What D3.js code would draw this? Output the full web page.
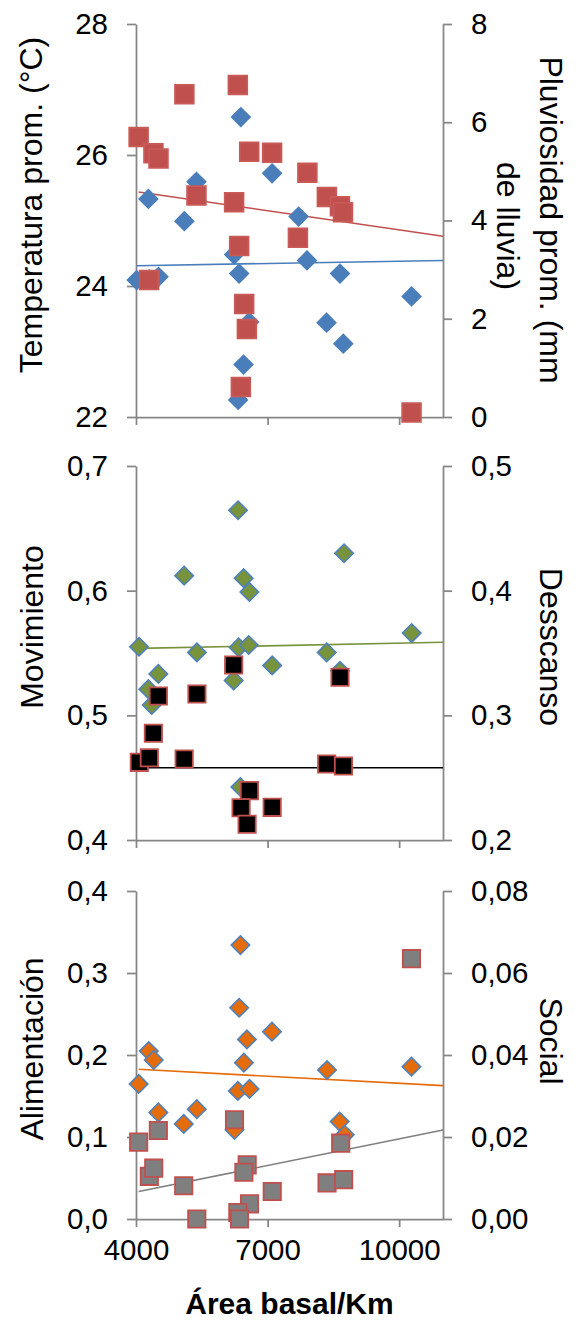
<!DOCTYPE html>
<html>
<head>
<meta charset="utf-8">
<script src="https://cdn.jsdelivr.net/npm/d3@7"></script>
<style>
  body { margin: 0; background: #fff; }
  svg { display: block; }
</style>
</head>
<body>
<div id="chart"></div>
<script>
// ---- data ----
// panel 1 : temperature (left) and rainfall (right)
var tempX = [6391, 4283, 5379, 7103, 5103, 7708, 7899, 6237, 6352, 8651, 4015, 4300, 4513, 10283, 8345, 8727, 6582, 6452, 6329];
var tempY = [26.58, 25.33, 25.59, 25.72, 24.99, 25.06, 24.39, 24.48, 24.19, 24.19, 24.09, 24.10, 24.14, 23.84, 23.44, 23.12, 23.45, 22.80, 22.26];
var rainX = [5103, 6322, 4060, 4398, 4513, 6582, 7103, 7908, 5379, 6237, 8352, 8650, 8720, 7692, 6352, 4299, 6467, 6528, 6391, 10283];
var rainY = [6.57, 6.76, 5.70, 5.37, 5.26, 5.40, 5.38, 4.97, 4.51, 4.37, 4.48, 4.29, 4.17, 3.65, 3.48, 2.79, 2.30, 1.79, 0.61, 0.09];
var tempTrend = [24.31, 24.39];
var rainTrend = [4.58, 3.68];

// panel 2 : movimiento (left) and descanso (right)
var movX = [6327, 8744, 5098, 6455, 6586, 10286, 4069, 5389, 6341, 6570, 8348, 7105, 4510, 6227, 4281, 4359, 8652, 6380];
var movY = [0.6645, 0.630, 0.612, 0.610, 0.599, 0.566, 0.555, 0.5505, 0.5545, 0.5564, 0.5505, 0.540, 0.5332, 0.528, 0.521, 0.5083, 0.5357, 0.4425];
var descX = [6227, 8652, 4510, 5389, 4396, 4076, 4304, 5098, 8348, 8730, 6586, 6396, 7105, 6533];
var descY = [0.3404, 0.3305, 0.3155, 0.3171, 0.2856, 0.2623, 0.2660, 0.2650, 0.2610, 0.2594, 0.2396, 0.2259, 0.2262, 0.2126];
var movTrend = [0.5537, 0.5586];
var descTrend = [0.258, 0.258];

// panel 3 : alimentacion (left) and social (right)
var alimX = [6382, 6353, 7100, 6529, 4290, 4404, 6460, 8356, 10281, 4061, 6322, 6588, 4510, 5386, 5088, 8644, 6246, 8759];
var alimY = [0.334, 0.2576, 0.2284, 0.219, 0.2049, 0.194, 0.1906, 0.1817, 0.1858, 0.1647, 0.1562, 0.1586, 0.130, 0.1339, 0.116, 0.1188, 0.1087, 0.1026];
var socialX = [10281, 6246, 4061, 4510, 8667, 4304, 4404, 6535, 6460, 5088, 7106, 8356, 8735, 6588, 6322, 5386, 6360];
var socialY = [0.0635, 0.0242, 0.01875, 0.0216, 0.0185, 0.0104, 0.0124, 0.0132, 0.0114, 0.0081, 0.0067, 0.0088, 0.0096, 0.0037, 0.0016, 0.0, 0.0];
var alimTrend = [0.1826, 0.1626];
var socialTrend = [0.0067, 0.0217];

// axes
var xDomain = [4000, 11000];
var xTicks = [4000, 7000, 10000];
var tempTicks = [22, 24, 26, 28], rainTicks = [0, 2, 4, 6, 8];
var movTicks = [0.4, 0.5, 0.6, 0.7], descTicks = [0.2, 0.3, 0.4, 0.5];
var alimTicks = [0, 0.1, 0.2, 0.3, 0.4], socialTicks = [0, 0.02, 0.04, 0.06, 0.08];

// ---- drawing ----
var W = 579, H = 1321;
var FONT = "'Liberation Sans', Arial, sans-serif";
var AXIS = "#868686";
var locale = d3.formatLocale({decimal: ",", thousands: ".", grouping: [3], currency: ["", ""]});

var svg = d3.select("#chart").append("svg")
  .attr("width", W).attr("height", H)
  .attr("viewBox", "0 0 " + W + " " + H);

var left = 136, right = 443;
var x = d3.scaleLinear().domain(xDomain).range([left, right]);

var panels = [
  {top: 24, bottom: 417,
   lTicks: tempTicks, lFmt: "d", rTicks: rainTicks, rFmt: "d",
   p: {x: tempX, y: tempY, trend: tempTrend, fill: "#4A7EBB", stroke: "none", line: "#4A7EBB", size: 215},
   s: {x: rainX, y: rainY, trend: rainTrend, fill: "#C0504D", stroke: "#C85A57", line: "#C0504D", size: 350},
   lTitle: {lines: ["Temperatura prom. (°C)"], x: 42, y: 205},
   rTitle: {lines: ["Pluviosidad prom. (mm", "de lluvia)"], x: [540, 497], y: [220, 226]}},
  {top: 466, bottom: 840,
   lTicks: movTicks, lFmt: ".1f", rTicks: descTicks, rFmt: ".1f",
   p: {x: movX, y: movY, trend: movTrend, fill: "#77933C", stroke: "#4F81BD", line: "#77933C", size: 170},
   s: {x: descX, y: descY, trend: descTrend, fill: "#000000", stroke: "#C0504D", line: "#000000", size: 300},
   lTitle: {lines: ["Movimiento"], x: 43, y: 627},
   rTitle: {lines: ["Desscanso"], x: [540], y: [647]}},
  {top: 891, bottom: 1219,
   lTicks: alimTicks, lFmt: ".1f", rTicks: socialTicks, rFmt: ".2f",
   p: {x: alimX, y: alimY, trend: alimTrend, fill: "#E46C0A", stroke: "#4F81BD", line: "#E46C0A", size: 170},
   s: {x: socialX, y: socialY, trend: socialTrend, fill: "#7F7F7F", stroke: "#C0504D", line: "#7F7F7F", size: 300},
   lTitle: {lines: ["Alimentación"], x: 43, y: 1049},
   rTitle: {lines: ["Social"], x: [540], y: [1041]}}
];

panels.forEach(function(pn, i){
  var g = svg.append("g");
  var yL = d3.scaleLinear().domain(d3.extent(pn.lTicks)).range([pn.bottom, pn.top]);
  var yR = d3.scaleLinear().domain(d3.extent(pn.rTicks)).range([pn.bottom, pn.top]);

  // axes
  var axL = d3.axisLeft(yL).tickValues(pn.lTicks).tickFormat(locale.format(pn.lFmt))
              .tickSizeInner(9).tickSizeOuter(0).tickPadding(19);
  var axR = d3.axisRight(yR).tickValues(pn.rTicks).tickFormat(locale.format(pn.rFmt))
              .tickSizeInner(9).tickSizeOuter(0).tickPadding(19);
  var axX = d3.axisBottom(x).tickValues(xTicks).tickSizeInner(8).tickSizeOuter(0)
              .tickPadding(12).tickFormat(i == 2 ? d3.format("d") : function(){ return ""; });

  var gx = g.append("g").attr("transform", "translate(0," + pn.bottom + ")").call(axX);
  var gl = g.append("g").attr("transform", "translate(" + left + ",0)").call(axL);
  var gr = g.append("g").attr("transform", "translate(" + right + ",0)").call(axR);
  [gx, gl, gr].forEach(function(a){
    a.select(".domain").attr("stroke", AXIS).attr("stroke-width", 1.75);
    a.selectAll(".tick line").attr("stroke", AXIS).attr("stroke-width", 1.75);
    a.selectAll(".tick text").attr("fill", "#000").style("font-family", FONT).style("font-size", "29.5px");
  });

  // trendlines
  function trend(ser, y){
    var x0 = d3.min(ser.x);
    g.append("path")
      .datum([[x0, ser.trend[0]], [xDomain[1], ser.trend[1]]])
      .attr("fill", "none").attr("stroke", ser.line).attr("stroke-width", 1.6)
      .attr("d", d3.line().x(function(d){ return x(d[0]); }).y(function(d){ return y(d[1]); }));
  }
  trend(pn.p, yL);
  trend(pn.s, yR);

  // markers
  var diamond = d3.symbol().type(d3.symbolSquare).size(pn.p.size);
  g.append("g").selectAll("path").data(pn.p.x).join("path")
    .attr("d", diamond)
    .attr("transform", function(d, k){ return "translate(" + x(d) + "," + yL(pn.p.y[k]) + ") rotate(45)"; })
    .attr("fill", pn.p.fill).attr("stroke", pn.p.stroke).attr("stroke-width", 1.6);

  var square = d3.symbol().type(d3.symbolSquare).size(pn.s.size);
  g.append("g").selectAll("path").data(pn.s.x).join("path")
    .attr("d", square)
    .attr("transform", function(d, k){ return "translate(" + x(d) + "," + yR(pn.s.y[k]) + ")"; })
    .attr("fill", pn.s.fill).attr("stroke", pn.s.stroke).attr("stroke-width", 1.8);

  // axis titles
  g.append("text")
    .attr("transform", "translate(" + pn.lTitle.x + "," + pn.lTitle.y + ") rotate(-90)")
    .attr("text-anchor", "middle")
    .style("font-family", FONT).style("font-size", "32px")
    .text(pn.lTitle.lines[0]);
  pn.rTitle.lines.forEach(function(t, k){
    g.append("text")
      .attr("transform", "translate(" + pn.rTitle.x[k] + "," + pn.rTitle.y[k] + ") rotate(90)")
      .attr("text-anchor", "middle")
      .style("font-family", FONT).style("font-size", "32px")
      .text(t);
  });
});

// x axis title
svg.append("text")
  .attr("x", (left + right) / 2).attr("y", 1314)
  .attr("text-anchor", "middle")
  .style("font-family", FONT).style("font-size", "30px").style("font-weight", "bold")
  .text("Área basal/Km");
</script>
</body>
</html>
